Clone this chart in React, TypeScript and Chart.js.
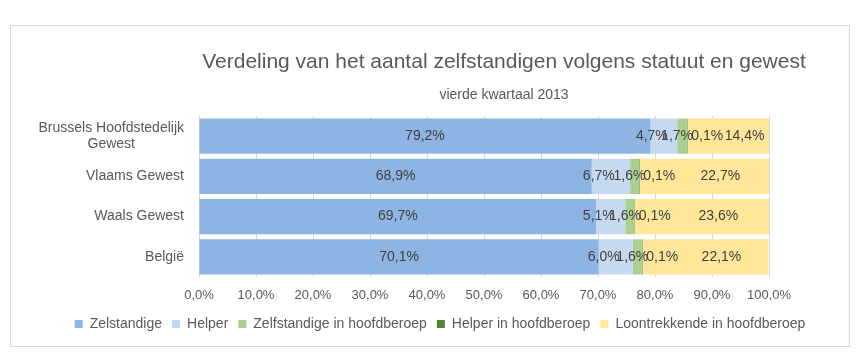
import React, { useEffect, useRef } from 'react';
import { Chart, registerables } from 'chart.js';

Chart.register(...registerables);

const titleText = 'Verdeling van het aantal zelfstandigen volgens statuut en gewest';
const subtitleText = 'vierde kwartaal 2013';

const categories: string[][] = [
  ['Brussels Hoofdstedelijk', 'Gewest'],
  ['Vlaams Gewest'],
  ['Waals Gewest'],
  ['België'],
];

const seriesNames = [
  'Zelstandige',
  'Helper',
  'Zelfstandige in hoofdberoep',
  'Helper in hoofdberoep',
  'Loontrekkende in hoofdberoep',
];

const zelfstandige = [79.2, 68.9, 69.7, 70.1];
const helper = [4.7, 6.7, 5.1, 6.0];
const zelfstandigeHoofdberoep = [1.7, 1.6, 1.6, 1.6];
const helperHoofdberoep = [0.1, 0.1, 0.1, 0.1];
const loontrekkendeHoofdberoep = [14.4, 22.7, 23.6, 22.1];

const xTickValues = [0, 10, 20, 30, 40, 50, 60, 70, 80, 90, 100];

const seriesColors = ['#8DB4E2', '#C5D9F1', '#A9D08E', '#548235', '#FFE699'];
const labelOffsets = [0, -12, -5, 20, 16];

const FONT = "'Liberation Sans', Arial, sans-serif";
const TEXT = '#595959';

const fmt = (v: number) => v.toFixed(1).replace('.', ',') + '%';

const customPlugin = {
  id: 'custom',
  afterDraw(chart: any) {
    const ctx = chart.ctx;
    const area = chart.chartArea;
    ctx.save();
    ctx.fillStyle = TEXT;
    ctx.textAlign = 'center';
    ctx.textBaseline = 'middle';
    ctx.font = `21px ${FONT}`;
    const cx = (area.left + area.right) / 2 + 20;
    ctx.fillText(titleText, cx, 36);
    ctx.font = `14px ${FONT}`;
    ctx.fillText(subtitleText, cx, 69);

    const yScale = chart.scales.y;
    ctx.font = `14px ${FONT}`;
    const rightEdge = area.left - 15;
    categories.forEach((lines, i) => {
      const yc = yScale.getPixelForTick(i);
      const widths = lines.map((l) => ctx.measureText(l).width);
      const bw = Math.max(...widths);
      const centerX = rightEdge - bw / 2;
      const lh = 16;
      lines.forEach((l, j) => {
        const y = yc + (j - (lines.length - 1) / 2) * lh;
        ctx.fillText(l, centerX, y);
      });
    });

    ctx.fillStyle = '#404040';
    ctx.font = `14px ${FONT}`;
    ctx.textAlign = 'center';
    chart.data.datasets.forEach((ds: any, di: number) => {
      const meta = chart.getDatasetMeta(di);
      meta.data.forEach((el: any, i: number) => {
        const x = (el.x + el.base) / 2 + labelOffsets[di];
        ctx.fillText(fmt(ds.data[i]), x, el.y);
      });
    });
    ctx.restore();
  },
};

export default function App() {
  const ref = useRef<HTMLCanvasElement | null>(null);
  useEffect(() => {
    if (!ref.current) return;
    const datasets = [
      zelfstandige,
      helper,
      zelfstandigeHoofdberoep,
      helperHoofdberoep,
      loontrekkendeHoofdberoep,
    ].map((data, i) => ({
      label: seriesNames[i],
      data,
      backgroundColor: seriesColors[i],
      borderWidth: 0,
      barPercentage: 0.875,
      categoryPercentage: 1,
    }));
    const chart = new Chart(ref.current, {
      type: 'bar',
      data: { labels: categories.map((c) => c.join(' ')), datasets },
      options: {
        indexAxis: 'y',
        animation: false,
        responsive: false,
        maintainAspectRatio: false,
        layout: { padding: { top: 90, right: 0, left: 20, bottom: 5 } },
        scales: {
          x: {
            stacked: true,
            min: 0,
            max: 100,
            afterBuildTicks: (scale: any) => {
              scale.ticks = xTickValues.map((v) => ({ value: v }));
            },
            afterFit: (scale: any) => {
              scale.height = 30;
            },
            ticks: {
              callback: (v: any) => fmt(Number(v)),
              color: TEXT,
              font: { family: FONT, size: 13 },
              padding: 11,
              maxRotation: 0,
              autoSkip: false,
            },
            grid: { color: '#D9D9D9', drawTicks: false },
            border: { display: false },
          },
          y: {
            stacked: true,
            ticks: { display: false },
            grid: { display: false },
            border: { display: false },
            afterFit: (scale: any) => {
              scale.width = 168;
            },
          },
          yRight: {
            type: 'category',
            position: 'right',
            ticks: { display: false },
            grid: { display: false },
            border: { display: false },
            afterFit: (scale: any) => {
              scale.width = 80;
            },
          },
        },
        plugins: {
          legend: {
            position: 'bottom',
            labels: {
              color: TEXT,
              font: { family: FONT, size: 14 },
              boxWidth: 8,
              boxHeight: 8,
              padding: 10,
            },
          },
          tooltip: { enabled: false },
          title: { display: false },
        },
      },
      plugins: [customPlugin],
    });
    return () => chart.destroy();
  }, []);

  return (
    <div
      style={{
        marginLeft: 2,
        marginTop: 17,
        width: 838,
        height: 320,
        border: '1px solid #D9D9D9',
      }}
    >
      <canvas ref={ref} width={838} height={320} style={{ display: 'block' }} />
    </div>
  );
}
